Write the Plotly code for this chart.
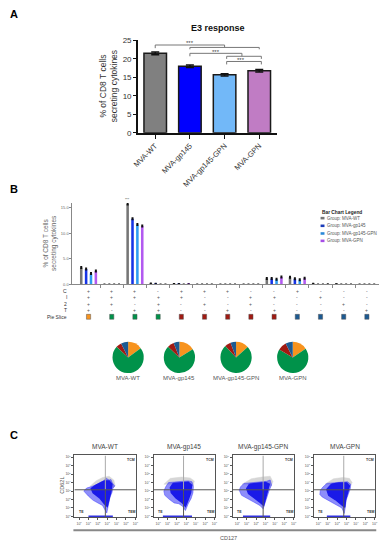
import plotly.graph_objects as go

W, H = 390, 550
def X(px): return px / W
def Y(py): return 1 - py / H

FONT = "Liberation Sans, Arial, sans-serif"

# ---------------- Panel A data ----------------
GROUPS = ["MVA-WT", "MVA-gp145", "MVA-gp145-GPN", "MVA-GPN"]
A_VALUES = [21.5, 18.0, 15.7, 16.8]
A_SEM = [0.35, 0.35, 0.3, 0.35]
A_COLORS = ["#808080", "#0000ff", "#72b8f8", "#c07cc4"]
A_YTICKS = [0, 5, 10, 15, 20, 25]

# ---------------- Panel B data ----------------
ROW_C = ['+', '+', '+', '-', '+', '+', '+', '-', '-', '+', '-', '-', '-']
ROW_I = ['+', '+', '+', '+', '+', '-', '-', '+', '+', '-', '+', '-', '-']
ROW_2 = ['+', '+', '-', '+', '-', '+', '-', '+', '-', '-', '-', '+', '-']
ROW_T = ['+', '-', '+', '+', '-', '-', '+', '-', '+', '-', '-', '-', '+']
ROW_NAMES = ["C", "I", "2", "T"]
SLICE_OF_COMBO = [4, 3, 3, 3, 2, 2, 2, 2, 2, 1, 1, 1, 1]
B_WT = [3.3, 0, 15.7, 0.2, 0.12, 0, 0, 0, 1.15, 1.4, 0.15, 0.08, 0]
B_GP145 = [3.0, 0, 12.8, 0.15, 0.12, 0, 0, 0, 1.15, 1.1, 0, 0, 0]
B_GP145_GPN = [2.1, 0, 11.7, 0, 0, 0, 0, 0, 1.0, 0.9, 0, 0, 0]
B_GPN = [2.6, 0, 11.4, 0, 0.08, 0, 0, 0, 1.45, 1.2, 0.05, 0, 0]
B_SERIES = [B_WT, B_GP145, B_GP145_GPN, B_GPN]
B_COLORS = ["#767676", "#1634e6", "#2e9cf2", "#b25af0"]
B_LEGEND_COLORS = ["#767676", "#1a3bb8", "#2a88d8", "#a64de6"]
B_YTICKS = [0, 5, 10, 15]
B_YTICKTEXT = ["0.0", "5.0", "10.0", "15.0"]
SLICE_ORDER = [4, 3, 2, 1]
SLICE_COLORS = {4: "#f7931e", 3: "#00924a", 2: "#a11a12", 1: "#1c5a92"}

# ---------------- Panel C data ----------------
FLOW_BLUE = [
    [(2.6, 4.2), (2.9, 4.5), (3.2, 4.3), (3.4, 4.35), (3.55, 3.95), (3.8, 3.6), (3.6, 3.3), (3.5, 2.8),
     (3.3, 2.3), (3.2, 1.6), (3.1, 0.9), (2.95, 0.4), (2.75, 0.8), (2.5, 1.3), (2.0, 1.6), (1.5, 1.9),
     (1.0, 2.4), (0.5, 3.0), (0.8, 3.35), (1.3, 3.5), (1.8, 3.7), (2.2, 4.0)],
    [(1.1, 4.0), (1.8, 4.1), (2.6, 4.15), (3.2, 4.2), (3.6, 4.1), (3.75, 3.5), (3.7, 2.8), (3.5, 2.1),
     (3.2, 1.5), (2.9, 0.7), (2.6, 1.2), (2.2, 1.5), (1.7, 1.6), (1.2, 2.0), (0.7, 2.5), (0.6, 3.0), (0.8, 3.5)],
    [(0.7, 3.9), (1.5, 4.0), (2.4, 4.05), (3.1, 4.15), (3.5, 4.3), (3.65, 3.7), (3.4, 3.1), (3.15, 2.3),
     (2.95, 1.5), (2.75, 0.9), (2.4, 1.3), (1.7, 1.7), (1.0, 2.2), (0.45, 2.5), (0.2, 3.1), (0.35, 3.5)],
    [(0.9, 3.9), (1.6, 4.0), (2.4, 4.05), (3.1, 4.1), (3.45, 3.8), (3.4, 3.3), (3.15, 2.6), (2.95, 1.9),
     (2.85, 1.0), (2.75, 0.35), (2.5, 1.0), (1.75, 1.5), (1.1, 1.9), (0.4, 2.3), (0.15, 2.6), (0.2, 3.1), (0.5, 3.5)],
]
FLOW_CORE = [
    [(2.2, 3.9), (2.7, 4.2), (3.2, 4.2), (3.5, 3.8), (3.4, 3.0), (3.2, 2.2), (3.0, 1.2), (2.7, 1.5),
     (2.2, 2.2), (1.5, 2.8), (1.3, 3.3), (1.8, 3.7)],
    [(1.6, 3.9), (2.4, 4.0), (3.2, 4.05), (3.55, 3.7), (3.45, 2.8), (3.2, 2.0), (2.9, 1.2), (2.5, 1.7),
     (1.9, 2.2), (1.4, 2.8), (1.3, 3.4)],
    [(1.3, 3.8), (2.2, 3.95), (3.0, 4.0), (3.4, 3.8), (3.2, 3.0), (3.0, 2.2), (2.8, 1.3), (2.4, 1.7),
     (1.8, 2.2), (1.2, 2.7), (1.0, 3.3)],
    [(1.4, 3.8), (2.2, 3.95), (3.0, 3.95), (3.3, 3.6), (3.1, 2.8), (2.9, 2.0), (2.8, 1.1), (2.4, 1.5),
     (1.8, 2.0), (1.1, 2.5), (0.9, 3.2)],
]
FLOW_GRAY = [
    [(1.2, 3.6), (1.8, 4.2), (2.5, 4.6), (3.2, 4.75), (3.7, 4.3), (3.85, 3.6), (3.6, 3.4), (2.0, 3.6)],
    [(0.6, 3.8), (1.3, 4.5), (2.5, 4.65), (3.4, 4.55), (3.85, 4.2), (3.75, 3.6), (2.0, 3.8)],
    [(0.5, 3.8), (1.5, 4.45), (2.6, 4.65), (3.5, 4.75), (3.8, 4.1), (3.6, 3.6), (2.0, 3.8)],
    [(0.7, 3.8), (1.6, 4.45), (2.6, 4.6), (3.3, 4.5), (3.6, 4.0), (3.4, 3.6), (2.0, 3.8)],
]
FLOW_STRIP = [(1.0, 3.6), (0.5, 3.6), (0.6, 3.5), (0.9, 3.4)]
FLOW_QX = [2.8, 2.7, 2.75, 2.7]
FLOW_QY = 3.15
FLOW_XTICKS = [0, 1, 2, 3, 4, 5, 6]
FLOW_YTICKS = [0, 1, 2, 3, 4, 5, 6, 7]

fig = go.Figure()
annotations = []
shapes = []

def ann(text, x, y, size, color="#222", xanchor="center", yanchor="middle", bold=False, angle=0,
        xref="paper", yref="paper"):
    if bold:
        text = "<b>" + text + "</b>"
    annotations.append(dict(text=text, x=x, y=y, xref=xref, yref=yref, showarrow=False,
                            xanchor=xanchor, yanchor=yanchor, textangle=angle,
                            font=dict(size=size, color=color, family=FONT)))

# ---------------- Panel A ----------------
fig.add_trace(go.Bar(x=list(range(len(GROUPS))), y=A_VALUES, width=0.65,
                     marker=dict(color=A_COLORS, line=dict(color="#1a1a1a", width=1.5)),
                     error_y=dict(type="data", array=A_SEM, color="#111", thickness=1.5, width=4),
                     xaxis="x", yaxis="y", showlegend=False))

# significance brackets (data coords on panel A)
BR = "#777"
def seg(x0, y0, x1, y1):
    shapes.append(dict(type="line", xref="x", yref="y", x0=x0, y0=y0, x1=x1, y1=y1,
                       line=dict(color=BR, width=1)))
seg(0, 23.75, 2, 23.75); seg(0, 23.75, 0, 22.9); seg(2, 23.75, 2, 23.1)
seg(1, 23.1, 3, 23.1); seg(1, 23.1, 1, 22.6); seg(3, 23.1, 3, 22.6)
seg(1, 21.5, 2.5, 21.5); seg(1, 21.5, 1, 20.7); seg(2.5, 21.5, 2.5, 20.7)
seg(2.06, 20.7, 3.06, 20.7); seg(2.06, 20.7, 2.06, 20.0); seg(3.06, 20.7, 3.06, 20.0)
seg(2.06, 19.3, 3.06, 19.3); seg(2.06, 19.3, 2.06, 18.5); seg(3.06, 19.3, 3.06, 18.5)
ann("***", 1.0, 24.2, 6, "#444", xref="x", yref="y")
ann("***", 1.76, 21.95, 6, "#444", xref="x", yref="y")
ann("***", 2.46, 19.75, 6, "#444", xref="x", yref="y")

ann("E3 response", X(217), Y(24), 9, "#111", bold=True)
ann("% of CD8 T cells<br>secreting cytokines", X(105), Y(84), 8.5, "#333", angle=-90)

# ---------------- Panel B ----------------
n = len(B_WT)
for i, (vals, col, name) in enumerate(zip(B_SERIES, B_COLORS, GROUPS)):
    err = [0.15 if v > 0.5 else 0 for v in vals]
    fig.add_trace(go.Bar(x=list(range(n)), y=vals, width=0.11, offset=(i - 1.5) * 0.21 - 0.055,
                         marker=dict(color=col, line=dict(width=0)),
                         error_y=dict(type="data", array=err, color="#111", thickness=1.5, width=1),
                         xaxis="x2", yaxis="y2", showlegend=False, name=name))
ann("***", 2 - 0.315, Y(199), 3.5, "#444", xref="x2")
ann("% of CD8 T cells<br>secreting cytokines", X(45), Y(243), 6.5, "#666", angle=-90)

# table rows
row_y = [291.7, 298.3, 305, 311.5]
for rname, rvals, ry in zip(ROW_NAMES, [ROW_C, ROW_I, ROW_2, ROW_T], row_y):
    ann(rname, X(64), Y(ry), 5, "#333", xanchor="right")
    for k, s in enumerate(rvals):
        ann(s, k, Y(ry), 5, "#555", xref="x2")
ann("Pie Slice", X(64), Y(318), 5, "#333", xanchor="right")
for k, sl in enumerate(SLICE_OF_COMBO):
    shapes.append(dict(type="rect", xref="x2", yref="paper", x0=k - 0.09, x1=k + 0.09,
                       y0=Y(320.5), y1=Y(315.5), fillcolor=SLICE_COLORS[sl],
                       line=dict(color="#555", width=0.5)))

# legend
ann("Bar Chart Legend", X(321.5), Y(212.3), 4.8, "#222", xanchor="left", bold=True)
for i, (name, col) in enumerate(zip(GROUPS, B_LEGEND_COLORS)):
    yy = [217.7, 225.5, 233.3, 240.8][i]
    shapes.append(dict(type="rect", xref="paper", yref="paper", x0=X(322), x1=X(326),
                       y0=Y(yy + 1.3), y1=Y(yy - 1.3), fillcolor=col, line=dict(width=0)))
    ann("Group: " + name, X(327), Y(yy), 4.5, "#555", xanchor="left")

# pies
pie_cx = [125, 177.5, 235.5, 293.5]
pie_cy, pie_r = 359.3, 16
for vals, name, cx in zip(B_SERIES, GROUPS, pie_cx):
    pv = [sum(v for v, s in zip(vals, SLICE_OF_COMBO) if s == sl) for sl in SLICE_ORDER]
    fig.add_trace(go.Pie(values=pv, labels=[str(s) for s in SLICE_ORDER], sort=False,
                         direction="clockwise", rotation=0, textinfo="none", hoverinfo="value",
                         marker=dict(colors=[SLICE_COLORS[s] for s in SLICE_ORDER],
                                     line=dict(width=0)),
                         domain=dict(x=[X(cx - pie_r), X(cx + pie_r)], y=[Y(pie_cy + pie_r), Y(pie_cy - pie_r)]),
                         showlegend=False))
    ann(name, X(cx), Y(380), 6, "#555")

# ---------------- Panel C ----------------
box_left = [70, 151, 232, 315]
box_w = 63
def poly(pts, fillcolor, linecolor, lw, xa, ya):
    px_, py_ = zip(*pts)
    fig.add_trace(go.Scatter(x=list(px_) + [px_[0]], y=list(py_) + [py_[0]], fill="toself", mode="lines",
                             fillcolor=fillcolor, line=dict(color=linecolor, width=lw),
                             xaxis=xa, yaxis=ya, showlegend=False, hoverinfo="skip"))
for k in range(4):
    xa = "x%d" % (k + 3)
    ya = "y%d" % (k + 3)
    poly(FLOW_GRAY[k], "#d6d6d6", "#d6d6d6", 0.5, xa, ya)
    poly(FLOW_BLUE[k], "rgba(50,50,245,0.55)", "rgba(60,60,255,0.6)", 0.8, xa, ya)
    poly(FLOW_CORE[k], "#1a1ae8", "#1a1ae8", 1.5, xa, ya)
    s0, s1 = FLOW_STRIP[k]
    fig.add_trace(go.Scatter(x=[s0, s1], y=[0.02, 0.02], mode="lines",
                             line=dict(color="#3030e0", width=1.5),
                             xaxis=xa, yaxis=ya, showlegend=False, hoverinfo="skip"))
    shapes.append(dict(type="line", xref=xa, yref=ya, x0=FLOW_QX[k], x1=FLOW_QX[k], y0=FLOW_QY, y1=7.2,
                       line=dict(color="#aaaaaa", width=1)))
    shapes.append(dict(type="line", xref=xa, yref=ya, x0=FLOW_QX[k], x1=FLOW_QX[k], y0=-0.12, y1=FLOW_QY,
                       line=dict(color="#555555", width=1)))
    shapes.append(dict(type="line", xref=xa, yref=ya, x0=-0.5, x1=6.06, y0=FLOW_QY, y1=FLOW_QY,
                       line=dict(color="#555555", width=1)))
    ann("TCM", 5.55, 6.7, 3.5, "#333", xref=xa, yref=ya, bold=True)
    ann("TE", -0.25, 0.55, 3.5, "#333", xref=xa, yref=ya, xanchor="left", bold=True)
    ann("TEM", 5.55, 0.55, 3.5, "#333", xref=xa, yref=ya, bold=True)
    ann(GROUPS[k], X(box_left[k] + box_w / 2), Y(450), 6.5, "#444")

ann("CD62L", X(57), Y(489), 5.5, "#555", angle=-90)
ann("CD127", X(228), Y(543), 5.5, "#555")
shapes.append(dict(type="line", xref="paper", yref="paper", x0=X(69), x1=X(379), y0=Y(535), y1=Y(535),
                   line=dict(color="#888", width=1.8)))

# panel letters
ann("A", X(8), Y(10), 11, "#000", bold=True)
ann("B", X(8), Y(188), 11, "#000", bold=True)
ann("C", X(8), Y(438), 11, "#000", bold=True)

layout = dict(
    width=W, height=H, autosize=False, margin=dict(l=0, r=0, t=0, b=0),
    paper_bgcolor="white", plot_bgcolor="white", barmode="overlay",
    font=dict(family=FONT),
    annotations=annotations, shapes=shapes,
    xaxis=dict(domain=[X(135), X(277)], range=[-0.5, 3.5], anchor="y",
               tickvals=list(range(len(GROUPS))), ticktext=GROUPS, tickangle=-45,
               ticks="outside", ticklen=4, tickwidth=1.2, tickcolor="#111",
               showline=True, linecolor="#111", linewidth=1.5, showgrid=False, zeroline=False,
               tickfont=dict(size=7.5, color="#333", family=FONT)),
    yaxis=dict(domain=[Y(131), Y(37)], range=[0, 25], anchor="x", tickvals=A_YTICKS,
               ticks="outside", ticklen=3, tickwidth=1.2, tickcolor="#111",
               showline=True, linecolor="#111", linewidth=1.5, showgrid=False, zeroline=False,
               tickfont=dict(size=8, color="#333", family=FONT)),
    xaxis2=dict(domain=[X(68), X(382)], range=[-0.695, 12.53], anchor="y2",
                tickvals=[k + 0.5 for k in range(n - 1)], showticklabels=False,
                ticks="outside", ticklen=2.5, tickcolor="#888",
                showline=True, linecolor="#888", linewidth=1, showgrid=False, zeroline=False),
    yaxis2=dict(domain=[Y(285), Y(202.3)], range=[0, 15.9], anchor="x2",
                tickvals=B_YTICKS, ticktext=B_YTICKTEXT, ticks="outside", ticklen=2,
                tickcolor="#888", showline=True, linecolor="#888", linewidth=1,
                showgrid=False, zeroline=False, tickfont=dict(size=4, color="#666", family=FONT)),
)
for k in range(4):
    xa = "xaxis%d" % (k + 3)
    ya = "yaxis%d" % (k + 3)
    layout[xa] = dict(domain=[X(box_left[k]), X(box_left[k] + box_w)], range=[-0.5, 6.06],
                      anchor="y%d" % (k + 3), tickvals=FLOW_XTICKS,
                      ticktext=["10<sup>%d</sup>" % t for t in FLOW_XTICKS],
                      ticks="outside", ticklen=2, tickcolor="#555", showline=True, mirror=True,
                      linecolor="#555", linewidth=1, showgrid=False, zeroline=False,
                      tickfont=dict(size=3.5, color="#555", family=FONT))
    layout[ya] = dict(domain=[Y(522), Y(459)], range=[-0.12, 7.2], anchor="x%d" % (k + 3),
                      tickvals=FLOW_YTICKS, ticktext=["10<sup>%d</sup>" % t for t in FLOW_YTICKS],
                      ticks="outside", ticklen=2, tickcolor="#555", showline=True, mirror=True,
                      linecolor="#555", linewidth=1, showgrid=False, zeroline=False,
                      tickfont=dict(size=3.5, color="#555", family=FONT))

fig.update_layout(**layout)
fig.write_html("out.html", config={"displayModeBar": False},
               post_script="document.body.style.margin='0px';")
